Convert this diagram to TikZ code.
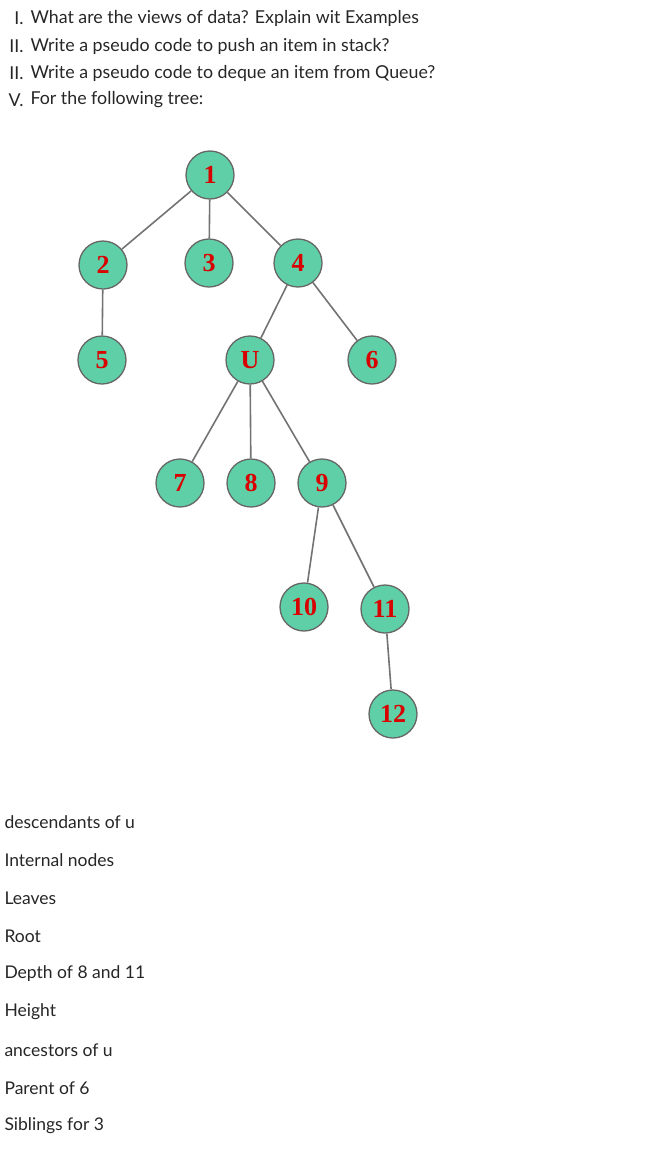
\documentclass[tikz,border=0pt]{standalone}
\usepackage{fontspec}
\setmainfont{Lato}
\newfontfamily\numfont{Liberation Serif}
\definecolor{nodefill}{HTML}{5ECFA6}
\begin{document}
\begin{tikzpicture}[x=1pt,y=-1pt,
  tn/.style={circle,draw=black!60,line width=1.3pt,fill=nodefill,minimum size=48pt,inner sep=0pt,text=red!85!black,font=\numfont\bfseries\fontsize{26}{26}\selectfont},
  ed/.style={draw=black!55,line width=1.6pt},
  q/.style={anchor=west,font=\fontsize{17.8}{18}\selectfont,text=black!85},
  qn/.style={anchor=east,font=\fontsize{17.8}{18}\selectfont,text=black!85},
  lab/.style={anchor=west,font=\fontsize{17.5}{18}\selectfont,text=black!85}]
\useasboundingbox (0,0) rectangle (650,1170);
\node[qn] (n1) at (27,18) {I.};   \node[q] (t1) at (27,18) {What are the views of data? Explain wit Examples};
\node[qn] (n2) at (27,46) {II.};  \node[q] (t2) at (27,46) {Write a pseudo code to push an item in stack?};
\node[qn] (n3) at (27,73) {II.};  \node[q] (t3) at (27,73) {Write a pseudo code to deque an item from Queue?};
\node[qn] (n4) at (27,100) {V.};  \node[q] (t4) at (27,100) {For the following tree:};
\node[tn] (a1) at (210,175) {1};
\node[tn] (a2) at (103,265) {2};
\node[tn] (a3) at (209,263) {3};
\node[tn] (a4) at (298,263) {4};
\node[tn] (a5) at (102,360) {5};
\node[tn] (aU) at (250,360) {U};
\node[tn] (a6) at (372,360) {6};
\node[tn] (a7) at (180,483) {7};
\node[tn] (a8) at (251,483) {8};
\node[tn] (a9) at (322,483) {9};
\node[tn] (a10) at (304,607) {10};
\node[tn] (a11) at (385,609) {11};
\node[tn] (a12) at (393,714) {12};
\draw[ed] (a1)--(a2); \draw[ed] (a1)--(a3); \draw[ed] (a1)--(a4);
\draw[ed] (a2)--(a5); \draw[ed] (a4)--(aU); \draw[ed] (a4)--(a6);
\draw[ed] (aU)--(a7); \draw[ed] (aU)--(a8); \draw[ed] (aU)--(a9);
\draw[ed] (a9)--(a10); \draw[ed] (a9)--(a11); \draw[ed] (a11)--(a12);
\begin{scope}[every node/.append style={font=\bfseries\fontsize{17}{18}\selectfont}]
\node[lab] (l1) at (1,822) {descendants of u};
\node[lab] (l2) at (1,860) {Internal nodes};
\node[lab] (l3) at (1,898) {Leaves};
\node[lab] (l4) at (1,936) {Root};
\node[lab] (l5) at (1,974) {Depth of 8 and 11};
\node[lab] (l6) at (1,1012) {Height};
\node[lab] (l7) at (1,1050) {ancestors of u};
\node[lab] (l8) at (1,1088) {Parent of 6};
\node[lab] (l9) at (1,1126) {Siblings for 3};
\end{scope}
\end{tikzpicture}
\end{document}
